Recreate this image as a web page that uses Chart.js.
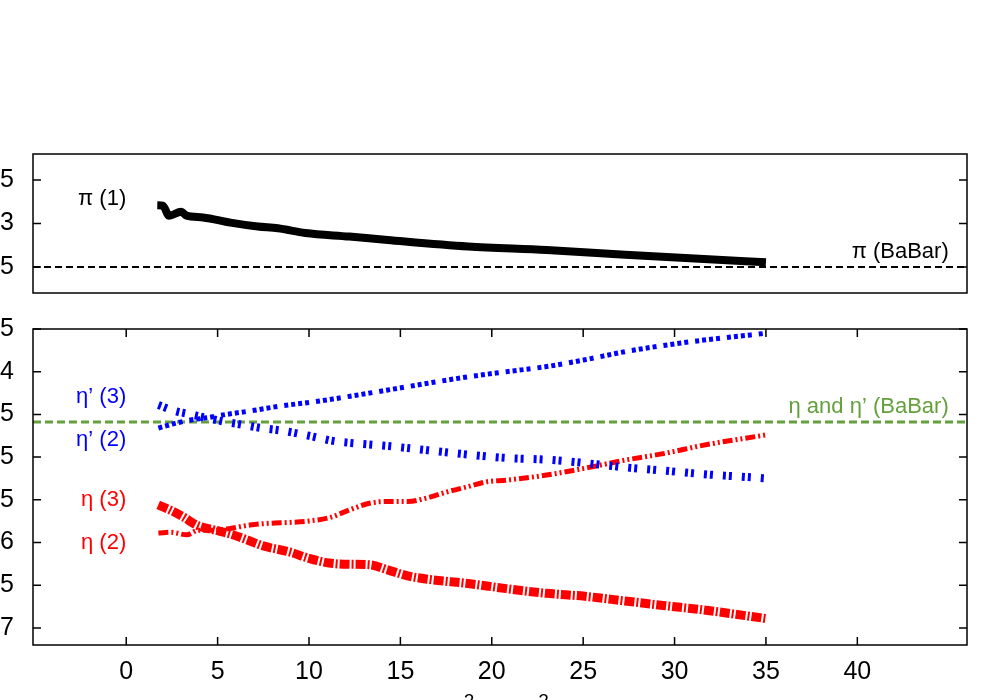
<!DOCTYPE html>
<html>
<head>
<meta charset="utf-8">
<script src="https://cdn.jsdelivr.net/npm/chart.js@4.4.0/dist/chart.umd.min.js"></script>
<style>
    html, body { margin: 0; padding: 0; width: 1000px; height: 700px; overflow: hidden; background: #fff; }
    canvas { position: absolute; left: 0; }
    #topChart { top: 0; }
    #bottomChart { top: 310px; }
</style>
</head>
<body>
<canvas id="topChart" width="1000" height="310" style="width:1000px;height:310px"></canvas>
<canvas id="bottomChart" width="1000" height="420" style="width:1000px;height:420px"></canvas>
<script>
// 刻度
const xTicks = [0, 5, 10, 15, 20, 25, 30, 35, 40];
const topTicks = [0.25, 0.3, 0.35];
const topTickLabels = ['0.25', '0.3', '0.35'];
const bottomTicks = [-0.7, -0.65, -0.6, -0.55, -0.5, -0.45, -0.4, -0.35];
const bottomTickLabels = ['-0.7', '-0.65', '-0.6', '-0.55', '-0.5', '-0.45', '-0.4', '-0.35'];

// BaBar 水平线
const piBabar = 0.25;
const etaBabar = -0.459;

// π (1)
const pi1X = [1.7, 2.0, 2.35, 3.0, 3.3, 4.2, 5.7, 7.2, 8.3, 9.8, 12.2, 14.3, 18.7, 23.0, 27.3, 31.6, 35.0];
const pi1Y = [0.321, 0.3205, 0.309, 0.3135, 0.309, 0.307, 0.301, 0.2965, 0.2945, 0.289, 0.285, 0.281, 0.2735, 0.2695, 0.264, 0.259, 0.2555];

// η' (3)
const etaP3X = [1.76, 2.67, 3.53, 4.39, 5.48, 6.34, 7.42, 8.5, 10.0, 11.3, 12.6, 14.3, 16.5, 18.7, 20.8, 23.0, 25.1, 27.3, 29.5, 31.6, 34.4, 35.0];
const etaP3Y = [-0.439, -0.446, -0.45, -0.454, -0.459, -0.462, -0.466, -0.469, -0.475, -0.481, -0.484, -0.487, -0.492, -0.497, -0.501, -0.503, -0.507, -0.512, -0.516, -0.52, -0.524, -0.525];

// η' (2)
const etaP2X = [1.76, 2.67, 3.53, 4.39, 5.48, 6.77, 8.5, 10.0, 11.3, 12.6, 14.3, 16.5, 18.7, 20.8, 23.0, 25.1, 27.3, 29.5, 31.6, 35.0];
const etaP2Y = [-0.466, -0.4605, -0.4565, -0.454, -0.45, -0.446, -0.44, -0.436, -0.432, -0.4275, -0.4215, -0.4135, -0.406, -0.4, -0.394, -0.386, -0.3765, -0.369, -0.363, -0.355];

// η (3)
const eta3X = [1.75, 2.41, 3.12, 3.89, 4.76, 5.7, 6.63, 7.5, 8.93, 10.0, 11.1, 12.2, 13.3, 14.3, 15.4, 16.5, 18.7, 20.8, 23.0, 25.1, 27.3, 29.5, 31.6, 35.0];
const eta3Y = [-0.556, -0.562, -0.57, -0.58, -0.585, -0.59, -0.597, -0.604, -0.611, -0.6185, -0.624, -0.6255, -0.626, -0.632, -0.639, -0.643, -0.648, -0.654, -0.6595, -0.663, -0.6685, -0.674, -0.679, -0.689];

// η (2)
const eta2X = [1.76, 2.45, 3.31, 3.96, 4.83, 5.69, 6.77, 7.85, 8.93, 10.0, 11.1, 12.2, 13.3, 14.3, 15.4, 16.5, 17.6, 18.7, 19.7, 20.8, 23.0, 25.1, 27.3, 29.5, 31.6, 35.0];
const eta2Y = [-0.589, -0.588, -0.591, -0.5855, -0.5855, -0.5835, -0.5795, -0.5775, -0.5765, -0.5748, -0.571, -0.562, -0.554, -0.552, -0.552, -0.5475, -0.5405, -0.5345, -0.529, -0.527, -0.521, -0.513, -0.5035, -0.4955, -0.486, -0.474];

const X_MIN = -5.1, X_MAX = 46;
const FONT = '"Liberation Sans", Arial, sans-serif';
const GREEN = '#64a03c';

const pts = (xs, ys) => xs.map((x, i) => ({ x, y: ys[i] }));
const hline = v => [{ x: X_MIN, y: v }, { x: X_MAX, y: v }];

function line(data, color, width, dash) {
    return {
        data, borderColor: color, borderWidth: width, borderDash: dash,
        borderCapStyle: 'butt', pointRadius: 0, fill: false,
        cubicInterpolationMode: 'monotone'
    };
}

// 边框和内向刻度
const framePlugin = {
    id: 'frame',
    afterDatasetsDraw(chart, args, opts) {
        const { ctx, chartArea: a, scales } = chart;
        ctx.save();
        ctx.strokeStyle = '#000';
        ctx.lineWidth = 1.5;
        ctx.strokeRect(a.left, a.top, a.right - a.left, a.bottom - a.top);
        ctx.beginPath();
        scales.y.ticks.forEach(t => {
            const py = scales.y.getPixelForValue(t.value);
            ctx.moveTo(a.left, py); ctx.lineTo(a.left + 8, py);
            ctx.moveTo(a.right, py); ctx.lineTo(a.right - 8, py);
        });
        if (opts.xTicks) {
            scales.x.ticks.forEach(t => {
                const px = scales.x.getPixelForValue(t.value);
                ctx.moveTo(px, a.bottom); ctx.lineTo(px, a.bottom - 8);
                ctx.moveTo(px, a.top); ctx.lineTo(px, a.top + 8);
            });
        }
        ctx.stroke();

        // 曲线标注
        ctx.font = '22px ' + FONT;
        ctx.textBaseline = 'middle';
        (opts.notes || []).forEach(n => {
            ctx.fillStyle = n.color;
            ctx.textAlign = n.align;
            ctx.fillText(n.text, scales.x.getPixelForValue(n.x), scales.y.getPixelForValue(n.y));
        });

        // x 轴标题 (带上标)
        if (opts.title) {
            const parts = opts.title;
            const cx = (a.left + a.right) / 2, by = a.bottom + 74;
            const w = parts.reduce((s, p) => {
                ctx.font = (p.sup ? '19px ' : '25px ') + FONT;
                return s + ctx.measureText(p.t).width;
            }, 0);
            let x = cx - w / 2;
            ctx.fillStyle = '#000';
            ctx.textAlign = 'left';
            ctx.textBaseline = 'alphabetic';
            parts.forEach(p => {
                ctx.font = (p.sup ? '19px ' : '25px ') + FONT;
                ctx.fillText(p.t, x, p.sup ? by - 12 : by);
                x += ctx.measureText(p.t).width;
            });
        }
        ctx.restore();
    }
};

function yScale(min, max, ticks, labels) {
    return {
        type: 'linear', min, max,
        afterBuildTicks: s => { s.ticks = ticks.map(v => ({ value: v })); },
        afterFit: s => { s.width = 33; s.paddingTop = 0; s.paddingBottom = 0; },
        ticks: {
            autoSkip: false, padding: 19, color: '#000',
            font: { family: FONT, size: 25 },
            callback: (v, i) => labels[i]
        },
        grid: { display: false, drawTicks: false, tickLength: 0 },
        border: { display: false }
    };
}

new Chart(document.getElementById('topChart'), {
    type: 'line',
    data: {
        datasets: [
            line(pts(pi1X, pi1Y), '#000', 8, []),
            line(hline(piBabar), '#000', 2, [7, 4])
        ]
    },
    options: {
        responsive: false, animation: false,
        layout: { padding: { top: 154, bottom: 17, left: 0, right: 33 } },
        plugins: {
            legend: { display: false }, tooltip: { enabled: false },
            frame: {
                xTicks: false,
                notes: [
                    { text: 'π (1)', x: 0, y: 0.328, color: '#000', align: 'right' },
                    { text: 'π (BaBar)', x: 45, y: 0.2672, color: '#000', align: 'right' }
                ]
            }
        },
        scales: {
            x: { type: 'linear', min: X_MIN, max: X_MAX, display: false },
            y: yScale(0.22, 0.38, topTicks, topTickLabels)
        }
    },
    plugins: [framePlugin]
});

new Chart(document.getElementById('bottomChart'), {
    type: 'line',
    data: {
        datasets: [
            line(pts(etaP3X, etaP3Y), '#0000ff', 8, [3, 3, 3, 10]),
            line(pts(etaP2X, etaP2Y), '#0000ff', 5, [4, 3, 4, 3, 4, 3, 4, 7]),
            line(pts(eta3X, eta3Y), '#ff0000', 9, [10, 2, 2, 2]),
            line(pts(eta2X, eta2Y), '#ff0000', 5, [10, 3, 2, 3, 2, 3]),
            line(hline(etaBabar), GREEN, 3, [8, 4])
        ]
    },
    options: {
        responsive: false, animation: false,
        layout: { padding: { top: 19, bottom: 0, left: 0, right: 33 } },
        plugins: {
            legend: { display: false }, tooltip: { enabled: false },
            frame: {
                xTicks: true,
                notes: [
                    { text: 'η’ (3)', x: 0, y: -0.4296, color: '#0000ff', align: 'right' },
                    { text: 'η’ (2)', x: 0, y: -0.48, color: '#0000ff', align: 'right' },
                    { text: 'η (3)', x: 0, y: -0.55, color: '#ff0000', align: 'right' },
                    { text: 'η (2)', x: 0, y: -0.6006, color: '#ff0000', align: 'right' },
                    { text: 'η and η’ (BaBar)', x: 45, y: -0.4413, color: GREEN, align: 'right' }
                ],
                title: [
                    { t: 'Q' }, { t: '2', sup: true }, { t: ' [GeV' }, { t: '2', sup: true }, { t: ']' }
                ]
            }
        },
        scales: {
            x: {
                type: 'linear', min: X_MIN, max: X_MAX,
                afterBuildTicks: s => { s.ticks = xTicks.map(v => ({ value: v })); },
                afterFit: s => { s.height = 85; },
                ticks: {
                    autoSkip: false, maxRotation: 0, padding: 12, color: '#000',
                    font: { family: FONT, size: 25 }
                },
                grid: { display: false, drawTicks: false, tickLength: 0 },
                border: { display: false }
            },
            y: yScale(-0.72, -0.35, bottomTicks, bottomTickLabels)
        }
    },
    plugins: [framePlugin]
});
</script>
</body>
</html>
